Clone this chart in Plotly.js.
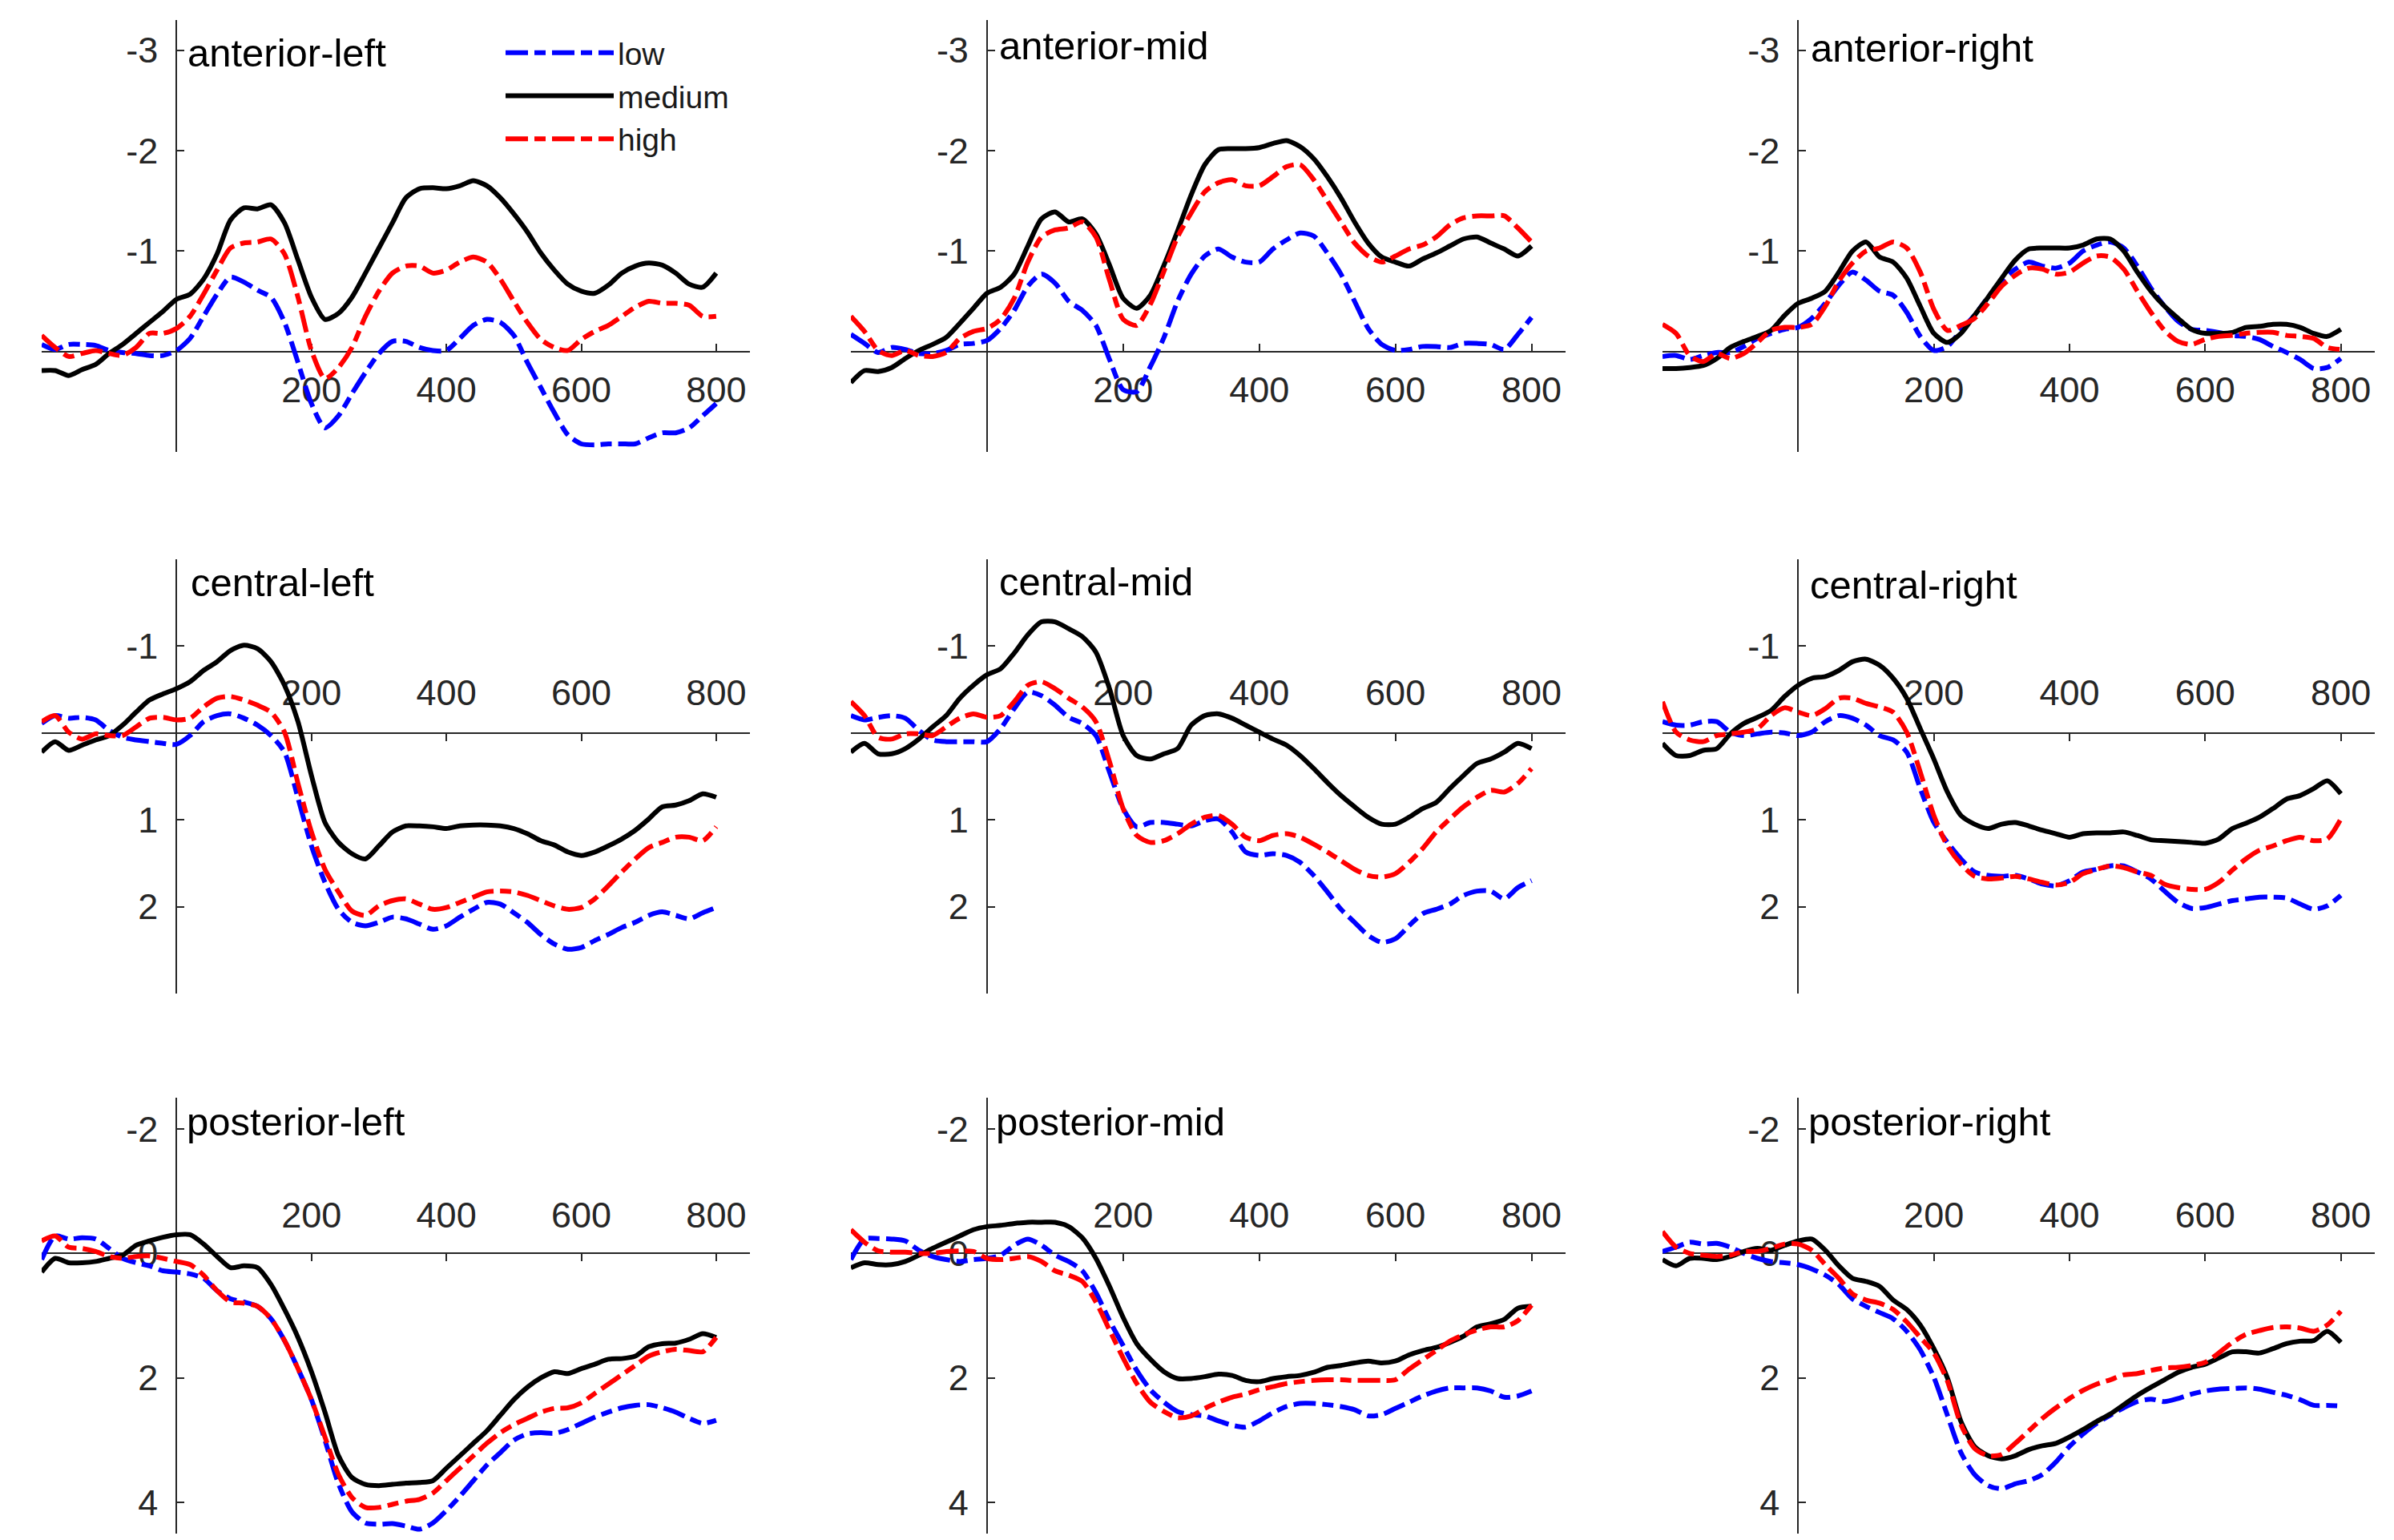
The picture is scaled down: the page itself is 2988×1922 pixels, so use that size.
<!DOCTYPE html>
<html>
<head>
<meta charset="utf-8">
<script src="https://cdn.plot.ly/plotly-3.0.1.min.js"></script>
<style>
html,body{margin:0;padding:0;background:#fff;}
#chart{width:2988px;height:1922px;}
</style>
</head>
<body>
<div id="chart"></div>
<script>
// ---------------- DATA ----------------
const timeMs = [-200,-180,-160,-140,-120,-100,-80,-60,-40,-20,0,20,40,60,80,100,120,140,160,180,200,220,240,260,280,300,320,340,360,380,400,420,440,460,480,500,520,540,560,580,600,620,640,660,680,700,720,740,760,780,800];

const conditions = ['low', 'medium', 'high'];
const panelNames = ['anterior-left','anterior-mid','anterior-right','central-left','central-mid','central-right','posterior-left','posterior-mid','posterior-right'];

// anterior-left
const antLeftLow = [-0.07,-0.02,-0.07,-0.07,-0.06,-0.01,0.01,0.02,0.04,0.04,-0.01,-0.13,-0.35,-0.57,-0.74,-0.69,-0.61,-0.54,-0.29,0.11,0.52,0.76,0.64,0.42,0.21,0.02,-0.10,-0.10,-0.04,-0.01,-0.01,-0.13,-0.26,-0.32,-0.29,-0.16,0.11,0.36,0.61,0.83,0.92,0.93,0.92,0.92,0.92,0.86,0.81,0.81,0.76,0.64,0.52];
const antLeftMed = [0.19,0.19,0.24,0.18,0.13,0.02,-0.07,-0.18,-0.29,-0.40,-0.52,-0.57,-0.72,-0.97,-1.31,-1.43,-1.42,-1.46,-1.28,-0.91,-0.54,-0.32,-0.38,-0.54,-0.78,-1.03,-1.28,-1.53,-1.62,-1.63,-1.62,-1.65,-1.70,-1.65,-1.53,-1.37,-1.19,-0.98,-0.81,-0.67,-0.60,-0.58,-0.66,-0.78,-0.85,-0.88,-0.86,-0.78,-0.67,-0.64,-0.78];
const antLeftHigh = [-0.16,-0.04,0.05,0.02,-0.01,0.02,0.04,-0.04,-0.18,-0.18,-0.23,-0.35,-0.57,-0.81,-1.03,-1.08,-1.09,-1.12,-0.97,-0.54,-0.01,0.27,0.16,-0.04,-0.35,-0.60,-0.78,-0.85,-0.85,-0.78,-0.81,-0.89,-0.94,-0.89,-0.72,-0.50,-0.29,-0.12,-0.04,-0.01,-0.12,-0.20,-0.26,-0.35,-0.44,-0.50,-0.48,-0.48,-0.46,-0.35,-0.35];

// anterior-mid
const antMidLow = [-0.17,-0.08,0.01,-0.04,-0.02,0.02,0.02,-0.01,-0.07,-0.08,-0.11,-0.23,-0.41,-0.65,-0.77,-0.68,-0.50,-0.41,-0.26,0.08,0.38,0.40,0.15,-0.14,-0.50,-0.77,-0.95,-1.02,-0.94,-0.89,-0.89,-1.02,-1.11,-1.18,-1.15,-0.98,-0.77,-0.50,-0.23,-0.07,-0.01,-0.02,-0.05,-0.05,-0.04,-0.08,-0.08,-0.07,-0.02,-0.17,-0.34];
const antMidMed = [0.31,0.19,0.20,0.16,0.07,-0.01,-0.07,-0.14,-0.28,-0.43,-0.58,-0.64,-0.77,-1.05,-1.32,-1.39,-1.29,-1.32,-1.17,-0.86,-0.53,-0.43,-0.56,-0.86,-1.20,-1.56,-1.86,-2.01,-2.02,-2.02,-2.03,-2.07,-2.10,-2.04,-1.92,-1.74,-1.53,-1.29,-1.08,-0.94,-0.89,-0.85,-0.92,-0.98,-1.05,-1.12,-1.14,-1.08,-1.02,-0.95,-1.05];
const antMidHigh = [-0.35,-0.20,-0.01,0.04,-0.01,0.04,0.05,0.01,-0.13,-0.20,-0.23,-0.32,-0.53,-0.89,-1.14,-1.21,-1.23,-1.29,-1.14,-0.71,-0.32,-0.26,-0.47,-0.80,-1.14,-1.38,-1.59,-1.68,-1.71,-1.65,-1.65,-1.74,-1.84,-1.86,-1.71,-1.50,-1.29,-1.08,-0.95,-0.89,-0.95,-1.02,-1.06,-1.14,-1.26,-1.33,-1.35,-1.35,-1.35,-1.23,-1.09];

// anterior-right
const antRightLow = [0.05,0.04,0.08,0.04,0.01,0.01,-0.05,-0.13,-0.18,-0.22,-0.24,-0.33,-0.48,-0.66,-0.79,-0.71,-0.60,-0.56,-0.39,-0.15,-0.01,-0.05,-0.21,-0.36,-0.54,-0.70,-0.82,-0.89,-0.85,-0.83,-0.88,-1.00,-1.06,-1.09,-1.03,-0.85,-0.63,-0.45,-0.30,-0.22,-0.21,-0.19,-0.16,-0.15,-0.12,-0.05,0.01,0.08,0.17,0.16,0.07];
const antRightMed = [0.17,0.17,0.16,0.14,0.07,-0.04,-0.10,-0.15,-0.21,-0.36,-0.48,-0.53,-0.60,-0.79,-1.00,-1.09,-0.94,-0.89,-0.73,-0.45,-0.18,-0.09,-0.18,-0.36,-0.54,-0.73,-0.91,-1.02,-1.03,-1.03,-1.03,-1.06,-1.12,-1.12,-1.00,-0.79,-0.60,-0.45,-0.33,-0.22,-0.18,-0.18,-0.19,-0.24,-0.25,-0.27,-0.27,-0.24,-0.18,-0.15,-0.22];
const antRightHigh = [-0.27,-0.18,0.04,0.10,0.02,0.07,0.02,-0.09,-0.21,-0.24,-0.24,-0.27,-0.45,-0.70,-0.88,-1.00,-1.03,-1.09,-1.03,-0.79,-0.42,-0.21,-0.26,-0.33,-0.48,-0.65,-0.76,-0.83,-0.82,-0.77,-0.79,-0.88,-0.95,-0.94,-0.82,-0.60,-0.39,-0.21,-0.10,-0.07,-0.12,-0.15,-0.16,-0.18,-0.19,-0.19,-0.16,-0.15,-0.13,-0.04,-0.02];

// central-left
const cenLeftLow = [-0.11,-0.20,-0.17,-0.18,-0.15,-0.03,0.05,0.08,0.10,0.12,0.13,0.03,-0.13,-0.20,-0.22,-0.17,-0.09,0.03,0.22,0.75,1.30,1.72,2.03,2.18,2.22,2.18,2.12,2.14,2.20,2.26,2.22,2.12,2.03,1.95,1.97,2.07,2.18,2.32,2.43,2.49,2.47,2.39,2.32,2.24,2.18,2.10,2.06,2.10,2.14,2.07,2.01];
const cenLeftMed = [0.22,0.10,0.20,0.14,0.08,0.03,-0.09,-0.24,-0.38,-0.45,-0.51,-0.59,-0.72,-0.82,-0.95,-1.01,-0.97,-0.82,-0.55,-0.13,0.49,1.03,1.26,1.39,1.45,1.30,1.14,1.07,1.07,1.08,1.10,1.07,1.06,1.06,1.07,1.10,1.16,1.24,1.29,1.37,1.41,1.37,1.30,1.22,1.12,0.99,0.85,0.83,0.78,0.70,0.74];
const cenLeftHigh = [-0.13,-0.20,-0.01,0.07,0.01,0.03,0.03,-0.07,-0.17,-0.18,-0.15,-0.17,-0.30,-0.40,-0.42,-0.38,-0.32,-0.24,-0.01,0.58,1.14,1.57,1.83,2.05,2.10,1.99,1.93,1.91,1.97,2.03,2.01,1.95,1.89,1.83,1.82,1.83,1.87,1.93,1.99,2.03,2.01,1.91,1.76,1.60,1.45,1.32,1.26,1.20,1.20,1.24,1.08];

// central-mid
const cenMidLow = [-0.20,-0.15,-0.18,-0.20,-0.17,-0.03,0.08,0.10,0.10,0.10,0.10,-0.05,-0.28,-0.47,-0.43,-0.32,-0.18,-0.11,0.03,0.45,0.87,1.08,1.03,1.03,1.05,1.07,1.01,0.99,1.14,1.37,1.41,1.39,1.41,1.49,1.64,1.83,2.03,2.18,2.33,2.41,2.37,2.22,2.08,2.03,1.97,1.87,1.82,1.82,1.91,1.78,1.70];
const cenMidMed = [0.22,0.12,0.24,0.24,0.18,0.07,-0.07,-0.20,-0.40,-0.55,-0.67,-0.74,-0.92,-1.13,-1.28,-1.28,-1.20,-1.11,-0.93,-0.51,0.03,0.26,0.30,0.24,0.18,-0.09,-0.20,-0.22,-0.17,-0.09,-0.01,0.07,0.14,0.26,0.41,0.57,0.72,0.85,0.97,1.05,1.05,0.97,0.87,0.80,0.64,0.49,0.35,0.30,0.22,0.12,0.18];
const cenMidHigh = [-0.36,-0.20,0.05,0.07,0.01,0.01,0.03,-0.07,-0.17,-0.22,-0.18,-0.20,-0.36,-0.55,-0.59,-0.51,-0.40,-0.30,-0.13,0.33,0.87,1.18,1.26,1.24,1.16,1.05,0.97,0.95,1.05,1.20,1.24,1.18,1.16,1.20,1.28,1.37,1.47,1.57,1.64,1.66,1.62,1.49,1.33,1.14,0.99,0.85,0.74,0.66,0.68,0.58,0.41];

// central-right
const cenRightLow = [-0.13,-0.09,-0.09,-0.13,-0.13,-0.01,0.03,0.01,-0.01,0.00,0.03,-0.01,-0.13,-0.20,-0.17,-0.09,0.03,0.08,0.22,0.64,1.03,1.26,1.45,1.60,1.64,1.65,1.64,1.68,1.74,1.76,1.70,1.60,1.57,1.53,1.53,1.60,1.68,1.82,1.95,2.02,2.01,1.97,1.93,1.91,1.89,1.89,1.90,1.97,2.03,1.99,1.87];
const cenRightMed = [0.12,0.26,0.26,0.20,0.18,0.01,-0.11,-0.18,-0.26,-0.42,-0.55,-0.63,-0.65,-0.72,-0.82,-0.85,-0.78,-0.63,-0.40,-0.05,0.30,0.68,0.95,1.05,1.10,1.05,1.03,1.07,1.12,1.16,1.20,1.16,1.15,1.15,1.14,1.18,1.23,1.24,1.25,1.26,1.27,1.22,1.10,1.04,0.97,0.87,0.76,0.72,0.64,0.55,0.70];
const cenRightHigh = [-0.36,-0.01,0.08,0.10,0.03,0.01,-0.01,-0.05,-0.20,-0.29,-0.24,-0.20,-0.28,-0.40,-0.40,-0.34,-0.30,-0.24,-0.01,0.45,0.95,1.30,1.51,1.65,1.68,1.67,1.65,1.68,1.72,1.75,1.72,1.62,1.57,1.53,1.55,1.60,1.64,1.74,1.78,1.80,1.80,1.72,1.58,1.45,1.35,1.30,1.24,1.20,1.24,1.22,0.99];

// posterior-left
const postLeftLow = [0.10,-0.28,-0.23,-0.25,-0.23,-0.08,0.08,0.15,0.20,0.28,0.30,0.33,0.40,0.60,0.73,0.78,0.85,1.05,1.40,1.85,2.35,3.00,3.70,4.15,4.33,4.35,4.34,4.38,4.43,4.33,4.13,3.90,3.65,3.40,3.20,3.00,2.90,2.88,2.89,2.83,2.73,2.63,2.55,2.48,2.44,2.43,2.48,2.55,2.65,2.73,2.68];
const postLeftMed = [0.30,0.08,0.15,0.15,0.13,0.08,0.03,-0.13,-0.20,-0.26,-0.30,-0.30,-0.15,0.05,0.23,0.20,0.23,0.50,0.90,1.35,1.90,2.55,3.25,3.60,3.71,3.73,3.71,3.69,3.68,3.65,3.45,3.25,3.05,2.85,2.60,2.35,2.15,2.00,1.90,1.93,1.85,1.78,1.70,1.69,1.65,1.50,1.45,1.44,1.38,1.29,1.35];
const postLeftHigh = [-0.20,-0.28,-0.10,-0.08,-0.03,0.05,0.08,0.05,0.04,0.08,0.13,0.18,0.35,0.60,0.78,0.80,0.85,1.05,1.40,1.85,2.35,2.95,3.55,3.92,4.08,4.08,4.03,3.98,3.95,3.85,3.65,3.45,3.25,3.05,2.88,2.75,2.65,2.55,2.49,2.48,2.40,2.25,2.10,1.95,1.80,1.65,1.58,1.54,1.56,1.58,1.35];

// posterior-mid
const postMidLow = [0.10,-0.23,-0.24,-0.23,-0.20,-0.05,0.05,0.10,0.13,0.10,0.08,0.03,-0.13,-0.23,-0.13,0.03,0.13,0.28,0.63,1.08,1.48,1.88,2.19,2.39,2.54,2.59,2.61,2.69,2.76,2.79,2.69,2.56,2.46,2.41,2.41,2.43,2.46,2.51,2.61,2.59,2.49,2.39,2.29,2.21,2.16,2.16,2.16,2.21,2.31,2.29,2.21];
const postMidMed = [0.23,0.15,0.18,0.18,0.13,0.03,-0.08,-0.18,-0.28,-0.38,-0.43,-0.45,-0.48,-0.50,-0.50,-0.50,-0.43,-0.25,0.08,0.53,1.03,1.45,1.70,1.90,2.01,2.01,1.98,1.94,1.96,2.04,2.06,2.01,1.98,1.96,1.91,1.83,1.80,1.76,1.73,1.76,1.73,1.63,1.56,1.51,1.43,1.33,1.18,1.13,1.06,0.88,0.85];
const postMidHigh = [-0.38,-0.18,-0.04,-0.02,-0.02,0.00,0.00,-0.03,-0.04,-0.03,0.08,0.10,0.08,0.05,0.13,0.28,0.35,0.45,0.78,1.23,1.68,2.09,2.39,2.54,2.64,2.61,2.49,2.39,2.31,2.26,2.19,2.14,2.09,2.06,2.04,2.03,2.03,2.04,2.04,2.04,2.03,1.86,1.71,1.56,1.41,1.31,1.23,1.18,1.18,1.08,0.83];

// posterior-right
const postRightLow = [-0.03,-0.10,-0.18,-0.15,-0.16,-0.10,0.00,0.08,0.13,0.15,0.18,0.25,0.35,0.50,0.73,0.85,0.95,1.05,1.25,1.55,1.99,2.60,3.20,3.55,3.73,3.78,3.70,3.65,3.55,3.35,3.10,2.90,2.73,2.60,2.48,2.38,2.34,2.38,2.33,2.26,2.21,2.18,2.17,2.16,2.18,2.23,2.28,2.35,2.44,2.44,2.45];
const postRightMed = [0.10,0.20,0.08,0.08,0.10,0.05,-0.03,-0.08,-0.05,-0.13,-0.20,-0.23,-0.05,0.20,0.40,0.45,0.53,0.75,0.90,1.15,1.53,2.00,2.70,3.10,3.25,3.30,3.25,3.15,3.09,3.05,2.95,2.83,2.70,2.58,2.43,2.28,2.15,2.03,1.91,1.83,1.78,1.68,1.58,1.58,1.60,1.53,1.45,1.41,1.40,1.25,1.43];
const postRightHigh = [-0.35,-0.10,0.00,0.03,0.05,0.03,-0.03,-0.03,-0.08,-0.15,-0.15,-0.05,0.18,0.40,0.65,0.75,0.80,0.90,1.10,1.35,1.60,2.05,2.75,3.13,3.25,3.23,3.05,2.85,2.65,2.48,2.33,2.20,2.10,2.03,1.95,1.93,1.88,1.84,1.83,1.80,1.75,1.60,1.43,1.30,1.24,1.19,1.18,1.20,1.25,1.15,0.93];

const panelSeries = [
  [antLeftLow, antLeftMed, antLeftHigh],
  [antMidLow, antMidMed, antMidHigh],
  [antRightLow, antRightMed, antRightHigh],
  [cenLeftLow, cenLeftMed, cenLeftHigh],
  [cenMidLow, cenMidMed, cenMidHigh],
  [cenRightLow, cenRightMed, cenRightHigh],
  [postLeftLow, postLeftMed, postLeftHigh],
  [postMidLow, postMidMed, postMidHigh],
  [postRightLow, postRightMed, postRightHigh]
];

// y tick values / labels per row
const rowTickVals = [[-3,-2,-1,0,1], [-2,-1,0,1,2,3], [-2,0,2,4]];
const rowTickText = [['-3','-2','-1','',''], ['','-1','','1','2',''], ['-2','0','2','4']];
const xTickVals = [200, 400, 600, 800];

// ---------------- STYLE / GEOMETRY ----------------
const W = 2988, H = 1922;
const FONT = '"Liberation Sans", Arial, Helvetica, sans-serif';
const AX = '#262626';
const xRange = [-200, 850];
const rowRange = [[1, -3.3], [3, -2], [4.5, -2.5]]; // [bottom, top]
const colPx = [[52, 936], [1062, 1954], [2075, 2964]];
const rowPx = [[25, 564], [698, 1240], [1370, 1914]]; // [top, bottom]
const xLabelStandoff = [8, 16, 13];

const styles = [
  {color: '#0000ff', width: 6, dash: '28px,8px,14px,8px'},
  {color: '#000000', width: 6, dash: 'solid'},
  {color: '#ff0000', width: 6, dash: '28px,8px,14px,8px'}
];

const traces = [];
const layout = {
  width: W, height: H,
  margin: {l: 0, r: 0, t: 0, b: 0, pad: 0},
  paper_bgcolor: '#ffffff', plot_bgcolor: 'rgba(0,0,0,0)',
  showlegend: true,
  legend: {
    x: 626 / W, y: 1 - 34 / H, xanchor: 'left', yanchor: 'top',
    font: {family: FONT, size: 39, color: '#1a1a1a'},
    itemwidth: 135, bgcolor: 'rgba(0,0,0,0)', borderwidth: 0,
    tracegroupgap: 0
  },
  annotations: []
};

const titlePos = [
  [232, 66], [1245, 57], [2258, 60],
  [236, 727], [1245, 726], [2257, 730],
  [231, 1400], [1241, 1400], [2255, 1400]
];

for (let p = 0; p < 9; p++) {
  const r = Math.floor(p / 3), c = p % 3;
  const n = p + 1;
  const xk = n === 1 ? 'x' : 'x' + n;
  const yk = n === 1 ? 'y' : 'y' + n;
  const [bot, top] = rowRange[r];
  const [pt, pb] = rowPx[r];
  const [pl, pr] = colPx[c];
  const zeroYpx = pt + (0 - top) / (bot - top) * (pb - pt);
  const zeroXpx = pl + (0 - xRange[0]) / (xRange[1] - xRange[0]) * (pr - pl);

  layout['xaxis' + (n === 1 ? '' : n)] = {
    domain: [pl / W, pr / W], range: xRange, anchor: 'free',
    position: 1 - zeroYpx / H, side: r === 0 ? 'bottom' : 'top',
    tickmode: 'array', tickvals: xTickVals, ticktext: xTickVals.map(String),
    ticks: 'inside', ticklen: 9, tickwidth: 2, tickcolor: AX,
    showline: true, linecolor: AX, linewidth: 2,
    showgrid: false, zeroline: false, automargin: false,
    tickfont: {family: FONT, size: 45, color: AX},
    ticklabelstandoff: xLabelStandoff[r],
    layer: 'below traces', fixedrange: true
  };
  layout['yaxis' + (n === 1 ? '' : n)] = {
    domain: [1 - pb / H, 1 - pt / H], range: [bot, top], anchor: 'free',
    position: zeroXpx / W, side: 'left',
    tickmode: 'array', tickvals: rowTickVals[r], ticktext: rowTickText[r],
    ticks: 'inside', ticklen: 9, tickwidth: 2, tickcolor: AX,
    showline: true, linecolor: AX, linewidth: 2,
    showgrid: false, zeroline: false, automargin: false,
    tickfont: {family: FONT, size: 45, color: AX},
    ticklabelstandoff: 13,
    layer: 'below traces', fixedrange: true
  };

  for (let k = 0; k < 3; k++) {
    traces.push({
      type: 'scatter', mode: 'lines',
      x: timeMs, y: panelSeries[p][k],
      xaxis: xk, yaxis: yk,
      name: conditions[k], legendgroup: conditions[k],
      showlegend: p === 0,
      line: {color: styles[k].color, width: styles[k].width, dash: styles[k].dash, shape: 'spline', smoothing: 0.7},
      hoverinfo: 'skip'
    });
  }

  layout.annotations.push({
    text: panelNames[p], xref: 'paper', yref: 'paper',
    x: titlePos[p][0] / W, y: 1 - titlePos[p][1] / H,
    xanchor: 'left', yanchor: 'middle', showarrow: false,
    font: {family: FONT, size: 49, color: '#000000'}
  });
}

Plotly.newPlot('chart', traces, layout, {displayModeBar: false, staticPlot: true});
</script>
</body>
</html>
